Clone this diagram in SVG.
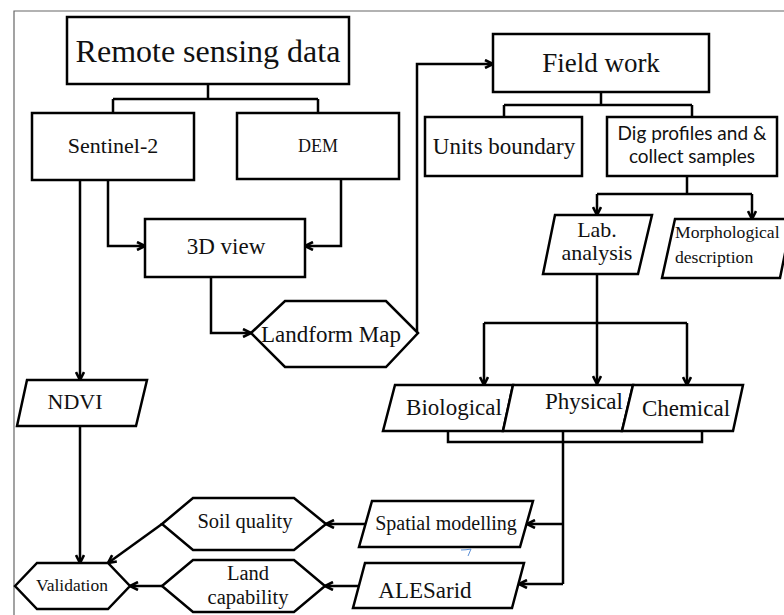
<svg xmlns="http://www.w3.org/2000/svg" width="784" height="615" viewBox="0 0 784 615">
<defs>
<marker id="arr" viewBox="0 0 10 10" refX="9" refY="5" markerWidth="10" markerHeight="10" markerUnits="userSpaceOnUse" orient="auto">
<path d="M1,1 L9,5 L1,9" fill="none" stroke="#000" stroke-width="2.6"/>
</marker>
<style>
.n{fill:#fff;stroke:#000;stroke-width:2.5;stroke-linejoin:miter}
.t{font-family:"Liberation Serif","Times New Roman",serif;fill:#111;text-anchor:middle}
.s{font-family:Lato,"Liberation Sans",sans-serif;fill:#111;text-anchor:middle}
.l{text-anchor:start}
.c{fill:none;stroke:#000;stroke-width:2.5}
.a{marker-end:url(#arr)}
</style>
</defs>
<rect width="784" height="615" fill="#fff"/>
<path d="M14,615 V11 H784" fill="none" stroke="#666" stroke-width="1.2"/>

<g id="connectors">
<path class="c" d="M208,84 V99 M113,99 H318 M113,99 V113 M318,99 V113"/>
<path class="c" d="M601,92 V105 M504,105 H692 M504,105 V117 M692,105 V117"/>
<path class="c a" d="M80,180 V380"/>
<path class="c a" d="M108,180 V246 H145"/>
<path class="c a" d="M341,179 V246 H305"/>
<path class="c a" d="M211,277 V333 H251"/>
<path class="c a" d="M417,333 V64 H493"/>
<path class="c" d="M687,176 V194 M597,194 H752"/>
<path class="c a" d="M597,194 V215"/>
<path class="c a" d="M752,194 V219"/>
<path class="c a" d="M597,274 V384"/>
<path class="c" d="M484,323 H687"/>
<path class="c a" d="M484,323 V385"/>
<path class="c a" d="M687,323 V385"/>
<path class="c" d="M448,431 V442 H702 V431 M563,431 V584"/>
<path class="c a" d="M563,524 H527"/>
<path class="c a" d="M563,584 H519"/>
<path class="c a" d="M365,524 H326"/>
<path class="c a" d="M359,586 H325"/>
<path class="c a" d="M162,524 L108,563"/>
<path class="c a" d="M162,586 H130"/>
<path class="c a" d="M80,426 V563"/>
</g>

<g id="remote-sensing">
<rect class="n" x="67" y="17" width="282" height="67"/>
<text class="t" x="208" y="62" font-size="32">Remote sensing data</text>
</g>
<g id="sentinel2">
<rect class="n" x="32" y="113" width="162" height="67"/>
<text class="t" x="113" y="153" font-size="22">Sentinel-2</text>
</g>
<g id="dem">
<rect class="n" x="237" y="113" width="162" height="66"/>
<text class="t" x="318" y="152" font-size="18">DEM</text>
</g>
<g id="view3d">
<rect class="n" x="145" y="219" width="160" height="58"/>
<text class="t" x="226" y="254" font-size="23">3D view</text>
</g>
<g id="landform">
<polygon class="n" points="251,333 285,301 386,301 418,333 386,367 285,367"/>
<text class="t" x="331" y="342" font-size="23">Landform Map</text>
</g>
<g id="fieldwork">
<rect class="n" x="493" y="34" width="216" height="58"/>
<text class="t" x="601" y="72" font-size="27">Field work</text>
</g>
<g id="units">
<rect class="n" x="425" y="117" width="157" height="59"/>
<text class="t" x="504" y="154" font-size="23">Units boundary</text>
</g>
<g id="dig">
<rect class="n" x="607" y="117" width="170" height="59"/>
<text class="s" x="692" y="140" font-size="19">Dig profiles and &amp;</text>
<text class="s" x="692" y="163" font-size="19">collect samples</text>
</g>
<g id="lab">
<polygon class="n" points="555,215 652,215 638,274 543,274"/>
<text class="t" x="597" y="237" font-size="22">Lab.</text>
<text class="t" x="597" y="260" font-size="22">analysis</text>
</g>
<g id="morph">
<polygon class="n" points="675,219 792,219 780,278 662,278"/>
<text class="t l" x="675" y="238" font-size="17.6">Morphological</text>
<text class="t l" x="675" y="263" font-size="17.6">description</text>
</g>
<g id="ndvi">
<polygon class="n" points="27,380 147,380 136,426 17,426"/>
<text class="t" x="75" y="409" font-size="22">NDVI</text>
</g>
<g id="biological">
<polygon class="n" points="395,385 513,385 503,431 383,431"/>
<text class="t" x="454" y="415" font-size="23">Biological</text>
</g>
<g id="physical">
<polygon class="n" points="513,385 633,385 622,431 503,431"/>
<text class="t" x="584" y="409" font-size="23">Physical</text>
</g>
<g id="chemical">
<polygon class="n" points="633,385 743,385 733,431 622,431"/>
<text class="t" x="686" y="416" font-size="23">Chemical</text>
</g>
<g id="spatial">
<polygon class="n" points="372,501 533,501 520,547 359,547"/>
<text class="t" x="446" y="530" font-size="20">Spatial modelling</text>
</g>
<g id="alesarid">
<polygon class="n" points="365,563 524,563 512,608 353,608"/>
<text class="t" x="425" y="598" font-size="23">ALESarid</text>
</g>
<g id="soilquality">
<polygon class="n" points="162,524 193,498 294,498 326,524 294,550 193,550"/>
<text class="t" x="245" y="528" font-size="20.5">Soil quality</text>
</g>
<g id="landcap">
<polygon class="n" points="162,586 193,560 294,560 325,586 294,612 193,612"/>
<text class="t" x="248" y="580" font-size="20.5">Land</text>
<text class="t" x="248" y="604" font-size="20.5">capability</text>
</g>
<g id="validation">
<polygon class="n" points="15,586 37,563 108,563 130,586 108,609 37,609"/>
<text class="t" x="72" y="591" font-size="17.5">Validation</text>
</g>
<path d="M461,550 Q466,550 471,549 L468,556" fill="none" stroke="#5b8fd6" stroke-width="1"/>
</svg>
